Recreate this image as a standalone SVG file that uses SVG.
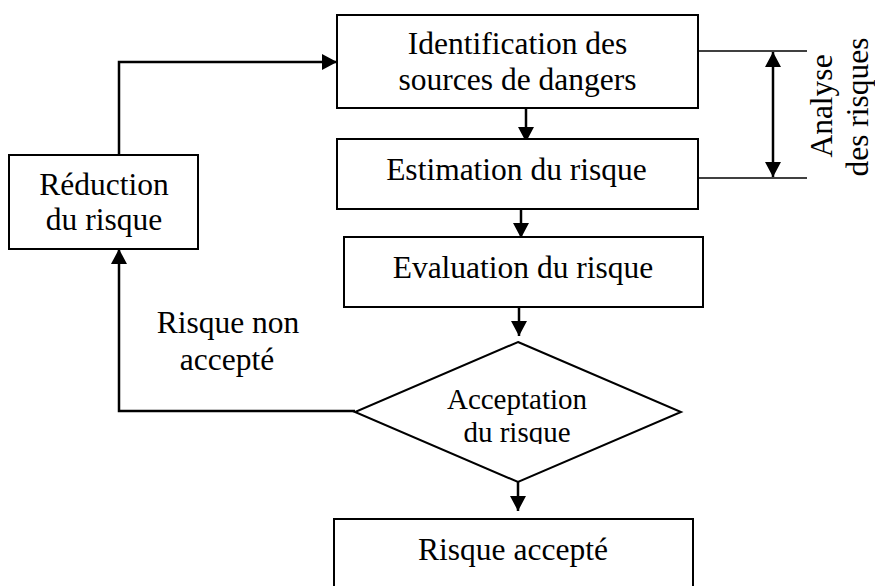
<svg xmlns="http://www.w3.org/2000/svg" width="875" height="586" viewBox="0 0 875 586">
  <style>
    .box { fill: #fff; stroke: #000; stroke-width: 2; }
    .lbl { font-family: "Liberation Serif", "Times New Roman", serif; font-size: 31.5px; fill: #000; text-anchor: middle; }
    .small { font-size: 29px; }
    .flow { fill: none; stroke: #000; stroke-width: 2.5; marker-end: url(#arrow); }
    .rule { fill: none; stroke: #000; stroke-width: 1.6; }
  </style>
  <defs>
    <marker id="arrow" markerUnits="userSpaceOnUse" markerWidth="16" markerHeight="16" viewBox="0 0 16 16" refX="15" refY="8" orient="auto-start-reverse">
      <path d="M0,0 L15,8 L0,16 z" fill="#000"/>
    </marker>
    <clipPath id="diamondClip">
      <rect x="340" y="340" width="360" height="104"/>
    </clipPath>
  </defs>

  <rect width="875" height="586" fill="#fff"/>

  <g id="connectors">
    <line class="flow" x1="526" y1="108" x2="526" y2="142"/>
    <line class="flow" x1="521" y1="203" x2="521" y2="238"/>
    <line class="flow" x1="519" y1="307" x2="519" y2="336"/>
    <line class="flow" x1="518" y1="482" x2="518" y2="511"/>
    <path class="flow" d="M355,411 H119 V249"/>
    <path class="flow" d="M119,155 V62 H337"/>
    <line class="rule" x1="698" y1="51" x2="807" y2="51"/>
    <line class="rule" x1="698" y1="178" x2="807" y2="178"/>
    <line class="flow" x1="773" y1="52" x2="773" y2="177" style="marker-start:url(#arrow)"/>
  </g>

  <g id="identification">
    <rect class="box" x="337" y="15" width="361" height="93"/>
    <text class="lbl" x="517.5" y="54">Identification des</text>
    <text class="lbl" x="517.5" y="90">sources de dangers</text>
  </g>

  <g id="estimation">
    <rect class="box" x="337" y="139" width="361" height="70"/>
    <text class="lbl" x="516.5" y="180">Estimation du risque</text>
  </g>

  <g id="evaluation">
    <rect class="box" x="344" y="237" width="359" height="70"/>
    <text class="lbl" x="523" y="278">Evaluation du risque</text>
  </g>

  <g id="acceptation">
    <polygon points="518,342 681,412 518,482 355,412" fill="#fff" stroke="#000" stroke-width="2"/>
    <g clip-path="url(#diamondClip)">
      <text class="lbl small" x="517" y="409">Acceptation</text>
      <text class="lbl small" x="517" y="442">du risque</text>
    </g>
  </g>

  <g id="accepte">
    <rect class="box" x="334" y="519" width="359" height="80"/>
    <text class="lbl" x="513" y="560">Risque accepté</text>
  </g>

  <g id="reduction">
    <rect class="box" x="9" y="155" width="189" height="94"/>
    <text class="lbl" x="104" y="195">Réduction</text>
    <text class="lbl" x="104" y="230">du risque</text>
  </g>

  <g id="non-accepte">
    <text class="lbl" x="228" y="333">Risque non</text>
    <text class="lbl" x="227" y="370">accepté</text>
  </g>

  <g id="analyse">
    <text class="lbl" transform="translate(832,106) rotate(-90)">Analyse</text>
    <text class="lbl" transform="translate(868,107) rotate(-90)">des risques</text>
  </g>
</svg>
